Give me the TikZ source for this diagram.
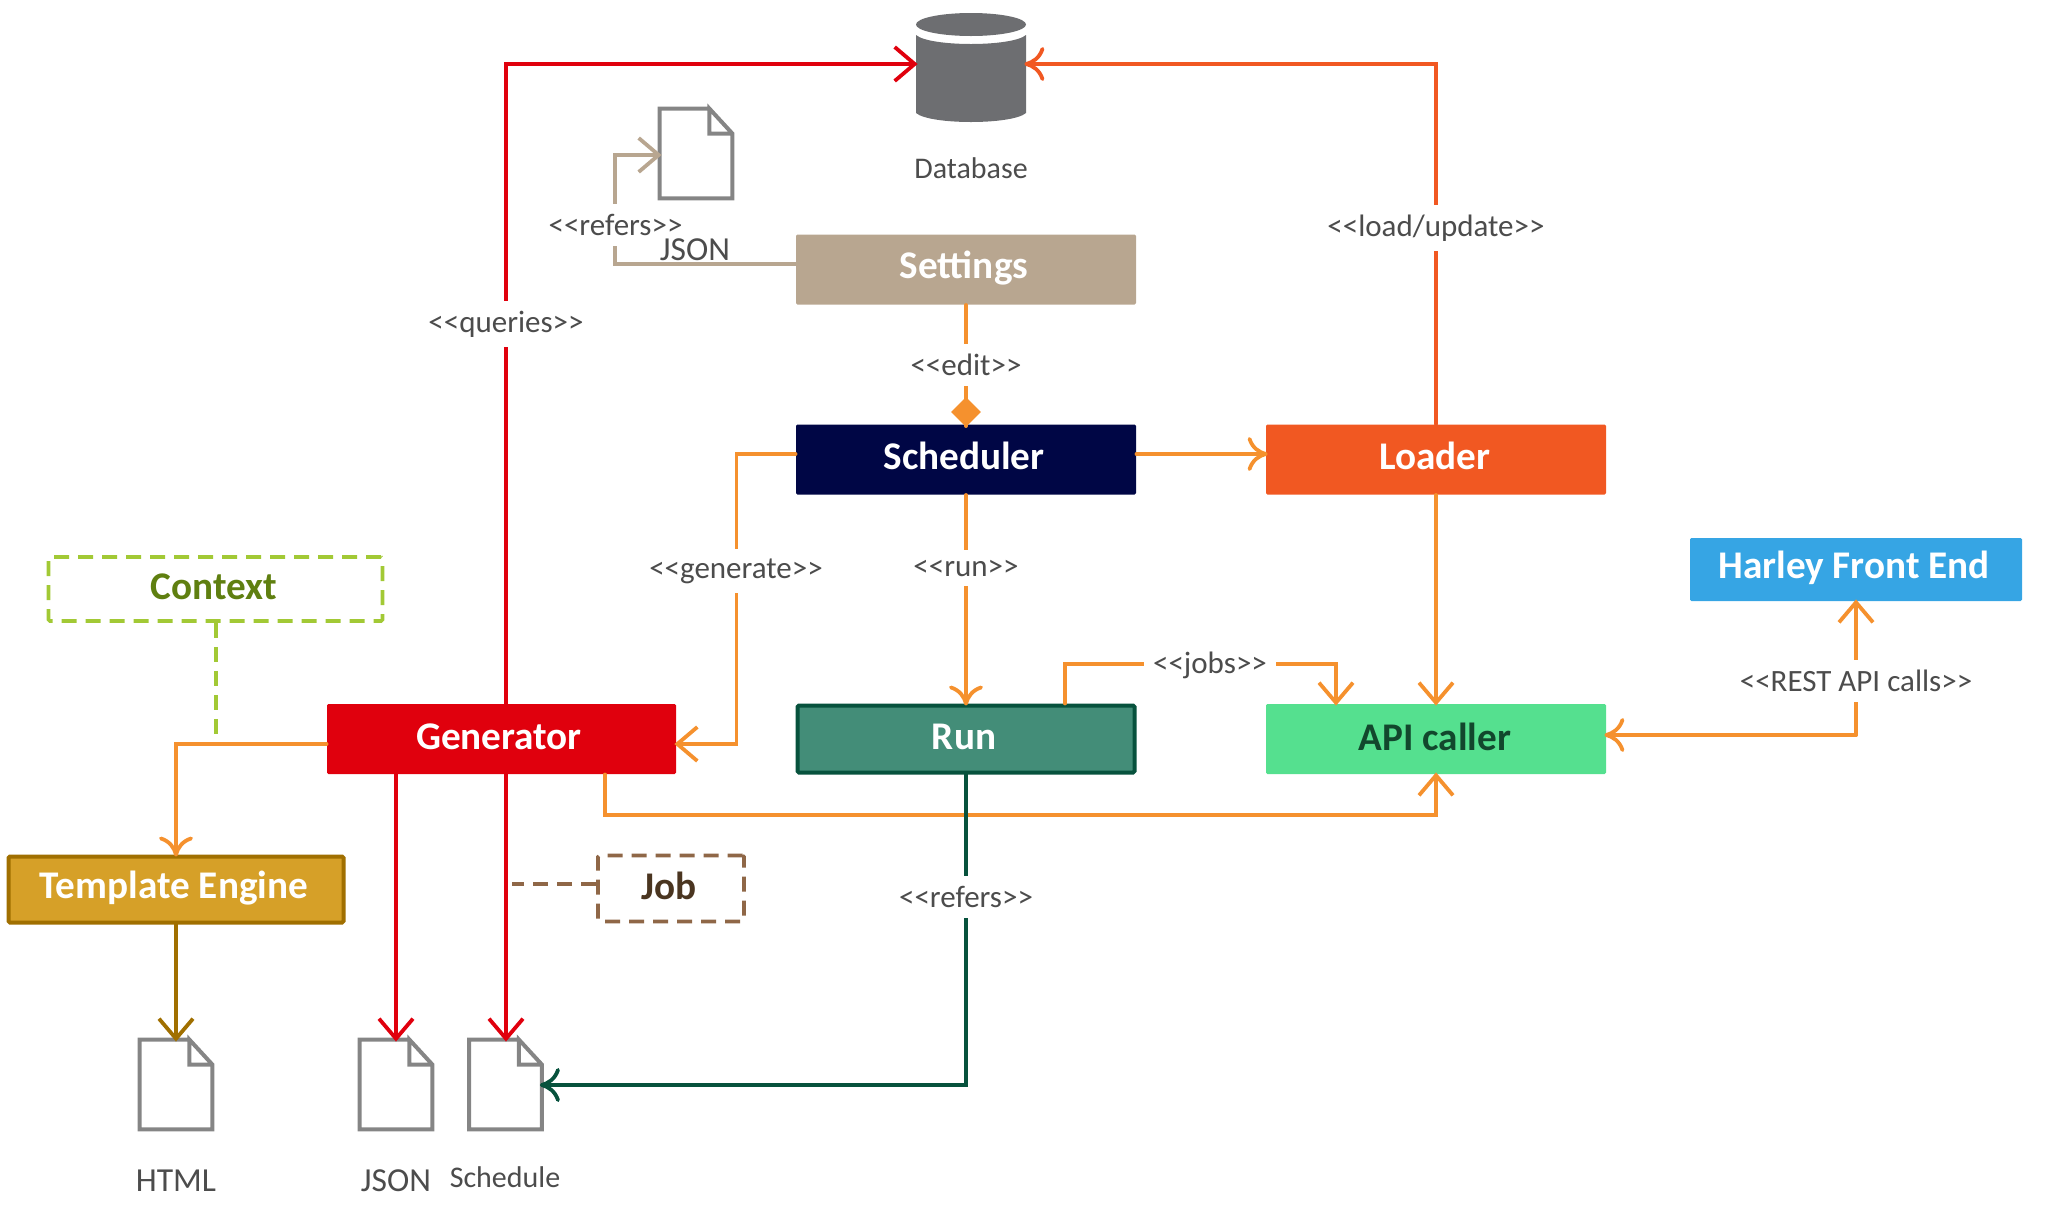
\documentclass[tikz,border=0pt]{standalone}
\usepackage{fontspec}
\setmainfont{Carlito}
\usetikzlibrary{arrows.meta,shapes.geometric,calc}
\definecolor{cOrange}{HTML}{F5912E}
\definecolor{cRed}{HTML}{E0000D}
\definecolor{cLoader}{HTML}{F15822}
\definecolor{cTan}{HTML}{B8A690}
\definecolor{cNavy}{HTML}{000645}
\definecolor{cBlue}{HTML}{36A5E4}
\definecolor{cGreenL}{HTML}{A2C935}
\definecolor{cGreenT}{HTML}{5F7F10}
\definecolor{cRunF}{HTML}{438D78}
\definecolor{cRunB}{HTML}{07523D}
\definecolor{cApi}{HTML}{55E08F}
\definecolor{cApiT}{HTML}{12472D}
\definecolor{cTplF}{HTML}{D6A028}
\definecolor{cTplB}{HTML}{A06F00}
\definecolor{cJobB}{HTML}{8F6747}
\definecolor{cJobT}{HTML}{4A3520}
\definecolor{cDoc}{HTML}{858585}
\definecolor{cDb}{HTML}{6D6E71}
\definecolor{cText}{HTML}{4C4C4C}
\newcommand{\angled}[1]{<{}<#1>{}>}
\tikzset{
  box/.style={rectangle,rounded corners=0.7pt,inner sep=0pt,font=\fontsize{19.6}{21}\selectfont\bfseries,text=white},
  wide/.style={box,minimum width=170pt,minimum height=35pt},
  lbl/.style={fill=white,text=cText,inner xsep=4.5pt,inner ysep=5pt,font=\fontsize{15.5}{17}\selectfont},
  captext/.style={text=cText,inner sep=0pt,font=\fontsize{15}{17}\selectfont},
  capbig/.style={captext,font=\fontsize{16.8}{18}\selectfont},
  conn/.style={line width=1.85pt,line cap=round,line join=miter,shorten >=-1pt},
  dashline/.style={line width=1.8pt,dash pattern=on 7.5pt off 4.5pt,line cap=butt},
  sbarb/.style={-{Straight Barb[length=10pt,width=17pt,line width=1.9pt]}},
  cbarb/.style={-{Computer Modern Rightarrow[length=10pt,width=17pt,line width=1.9pt]}},
  docnode/.style={rectangle,inner sep=0pt,minimum width=36pt,minimum height=44.5pt},
  docline/.style={draw=cDoc,line width=2pt,line join=miter}
}
\newcommand{\docicon}[3]{%
  \node[docnode] (#1) at (#2,#3) {};
  \draw[docline] ([xshift=-11.5pt]#1.north east) -- (#1.north west) -- (#1.south west) -- (#1.south east) -- ([yshift=-12.5pt]#1.north east) -- ([xshift=-11.5pt]#1.north east) -- ([xshift=-11.5pt,yshift=-12.5pt]#1.north east) -- ([yshift=-12.5pt]#1.north east);
}
\begin{document}
\begin{tikzpicture}[x=0.5pt,y=-0.5pt]
\useasboundingbox (0,0) rectangle (2057,1217);
% boxes
\node[wide,fill=cTan] (settings) at (966,269.5) {};
\node[wide,fill=cNavy] (sched) at (966,459.5) {};
\node[wide,fill=cLoader] (loader) at (1436,459.5) {};
\node[box,fill=cBlue,minimum width=166pt,minimum height=31.5pt] (harley) at (1856,569.5) {};
\node[box,draw=cGreenL,dashline,minimum width=167pt,minimum height=32pt] (context) at (215.5,589) {};
\node[box,fill=cRed,minimum width=174.5pt,minimum height=35pt] (gen) at (501.5,739) {};
\node[box,fill=cRunF,draw=cRunB,line width=2pt,minimum width=168.5pt,minimum height=33.5pt] (run) at (966,739) {};
\node[wide,fill=cApi] (api) at (1436,739) {};
\node[box,fill=cTplF,draw=cTplB,line width=2pt,minimum width=167.5pt,minimum height=33pt] (tpl) at (176,889.5) {};
\node[box,draw=cJobB,dashline,minimum width=73pt,minimum height=33pt] (job) at (671,888.5) {};
% database
\node[rectangle,inner sep=0pt,minimum width=55pt,minimum height=54.5pt] (db) at (971,67.5) {};
\fill[cDb] (971,24.5) ellipse [x radius=55,y radius=11.5];
\fill[cDb] (916,35) .. controls (930,47) and (1012,47) .. (1026,35) -- (1026,113) .. controls (1012,125) and (930,125) .. (916,113) -- cycle;
% documents
\docicon{dtop}{696}{153.5}
\docicon{dhtml}{176}{1084.5}
\docicon{djson}{396}{1084.5}
\docicon{dsch}{505.5}{1084.5}
% routing coordinates
\coordinate (xq) at (506,0);
\coordinate (yq) at (0,64);
\coordinate (xl) at (1436,0);
\coordinate (xr) at (615,0);
\coordinate (ys) at (0,264);
\coordinate (yd) at (0,155);
\coordinate (xg) at (736.5,0);
\coordinate (ysm) at (0,454);
\coordinate (ygm) at (0,744);
\coordinate (xj) at (1065,0);
\coordinate (xj2) at (1336,0);
\coordinate (yj) at (0,664);
\coordinate (xa) at (605,0);
\coordinate (ya) at (0,815);
\coordinate (xt) at (176,0);
\coordinate (xc) at (216,0);
\coordinate (xjs) at (396,0);
\coordinate (xm) at (966,0);
\coordinate (xh) at (1856,0);
\coordinate (ye) at (0,735);
\coordinate (yf) at (0,1085);
\coordinate (yjb) at (0,884);
\coordinate (xjb) at (512,0);
\coordinate (jobw) at (job.west |- yjb);
% connectors
\draw[conn,draw=cRed,sbarb] (gen.north -| xq) |- (db.west |- yq);
\draw[conn,draw=cLoader,cbarb] (loader.north -| xl) |- (db.east |- yq);
\draw[conn,draw=cTan,sbarb] (settings.west |- ys) -| (xr |- yd) -- (dtop.west |- yd);
\draw[conn,draw=cOrange] (settings.south -| xm) -- (sched.north -| xm);
\node[diamond,fill=cOrange,inner sep=0pt,minimum width=15pt,minimum height=15pt] (dia) at (966,412) {};
\draw[conn,draw=cOrange,cbarb] (sched.east |- ysm) -- (loader.west |- ysm);
\draw[conn,draw=cOrange,sbarb] (sched.west |- ysm) -| (xg |- ygm) -- (gen.east |- ygm);
\draw[conn,draw=cOrange,cbarb] (sched.south -| xm) -- (run.north -| xm);
\draw[conn,draw=cOrange,sbarb] (run.north -| xj) |- (xj2 |- yj) -- (api.north -| xj2);
\draw[conn,draw=cOrange,sbarb] (loader.south -| xl) -- (api.north -| xl);
\draw[conn,draw=cOrange,sbarb] (gen.south -| xa) |- (xl |- ya) -- (api.south -| xl);
\draw[draw=cGreenL,dashline] (context.south -| xc) -- (xc |- ygm);
\draw[conn,draw=cOrange,cbarb] (gen.west |- ygm) -| (tpl.north -| xt);
\draw[conn,draw=cTplB,sbarb] (tpl.south -| xt) -- (dhtml.north -| xt);
\draw[conn,draw=cRed,sbarb] (gen.south -| xjs) -- (djson.north -| xjs);
\draw[conn,draw=cRed,sbarb] (gen.south -| xq) -- (dsch.north -| xq);
\draw[draw=cJobB,dashline] (jobw) -- (xjb |- yjb);
\draw[conn,draw=cRunB,cbarb] (run.south -| xm) |- (dsch.east |- yf);
\draw[conn,draw=cOrange,sbarb] (xh |- ye) -- (harley.south -| xh);
\draw[conn,draw=cOrange,cbarb] (xh |- ye) -- (api.east |- ye);
% labels
\node[lbl] (lq) at (506,324) {\angled{queries}};
\node[lbl] (lr) at (615.5,225) {\angled{refers}};
\node[lbl] (lu) at (1436,228) {\angled{load/update}};
\node[lbl] (le) at (966,365) {\angled{edit}};
\node[lbl] (lg) at (736,571) {\angled{generate}};
\node[lbl] (lrun) at (966,568) {\angled{run}};
\node[lbl] (lj) at (1210,665) {\angled{jobs}};
\node[lbl] (lrf) at (966,897) {\angled{refers}};
\node[lbl] (lapi) at (1856,681) {\angled{REST API calls}};
% captions
\node[capbig] (cj1) at (695,250) {JSON};
\node[captext] (cdb) at (971,168) {Database};
\node[capbig] (ch) at (176,1181) {HTML};
\node[capbig] (cj2) at (396,1181) {JSON};
\node[captext] (cs) at (505,1177) {Schedule};
% box titles
\node[box] (t1) at (964,268) {Settings};
\node[box] (t2) at (964,456) {Scheduler};
\node[box] (t3) at (1435,456) {Loader};
\node[box] (t4) at (1854,568) {Harley Front End};
\node[box,text=cGreenT] (t5) at (214,587) {Context};
\node[box] (t6) at (499,737) {Generator};
\node[box] (t7) at (964,737) {Run};
\node[box,text=cApiT] (t8) at (1435,737) {API caller};
\node[box] (t9) at (174,888) {Template Engine};
\node[box,text=cJobT] (t10) at (669,886) {Job};
\end{tikzpicture}
\end{document}
